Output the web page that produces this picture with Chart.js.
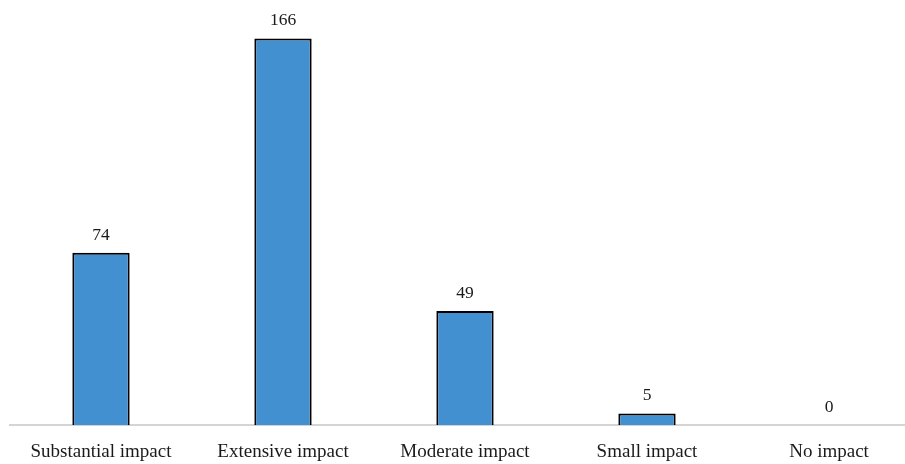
<!DOCTYPE html>
<html>
<head>
<meta charset="utf-8">
<script src="https://cdn.jsdelivr.net/npm/chart.js@4/dist/chart.umd.min.js"></script>
<style>
  html, body { margin: 0; padding: 0; background: #ffffff; overflow: hidden; }
  #wrap { width: 905px; height: 464px; overflow: hidden; }
</style>
</head>
<body>
<div id="wrap"><canvas id="c" width="922" height="478"></canvas></div>
<script>
const categories = ["Substantial impact", "Extensive impact", "Moderate impact", "Small impact", "No impact"];
const counts = [74, 166, 49, 5, 0];

// Writes each bar's count just above its top edge
const valueLabels = {
  id: "valueLabels",
  afterDatasetsDraw(chart) {
    const ctx = chart.ctx;
    const meta = chart.getDatasetMeta(0);
    ctx.save();
    ctx.font = "17.5px 'Liberation Serif', 'Times New Roman', serif";
    ctx.fillStyle = "#1a1a1a";
    ctx.textAlign = "center";
    ctx.textBaseline = "bottom";
    meta.data.forEach((bar, i) => {
      ctx.fillText(String(counts[i]), bar.x, bar.y - 9);
    });
    ctx.restore();
  }
};

new Chart(document.getElementById("c"), {
  type: "bar",
  data: {
    labels: categories,
    datasets: [{
      data: counts,
      backgroundColor: "#4390d0",
      borderColor: "#000000",
      borderWidth: 2,
      borderSkipped: "bottom",
      categoryPercentage: 1.0,
      barPercentage: 0.315
    }]
  },
  options: {
    responsive: false,
    animation: false,
    layout: { padding: { left: 10, right: 2, top: 6, bottom: 0 } },
    plugins: { legend: { display: false }, tooltip: { enabled: false } },
    scales: {
      y: { display: false, min: 0, max: 180 },
      x: {
        grid: { display: false, drawTicks: false },
        border: { display: true, color: "#d4d4d4", width: 2 },
        ticks: {
          color: "#1a1a1a",
          padding: 15,
          maxRotation: 0,
          autoSkip: false,
          font: { family: "'Liberation Serif', 'Times New Roman', serif", size: 19 }
        }
      }
    }
  },
  plugins: [valueLabels]
});
</script>
</body>
</html>
